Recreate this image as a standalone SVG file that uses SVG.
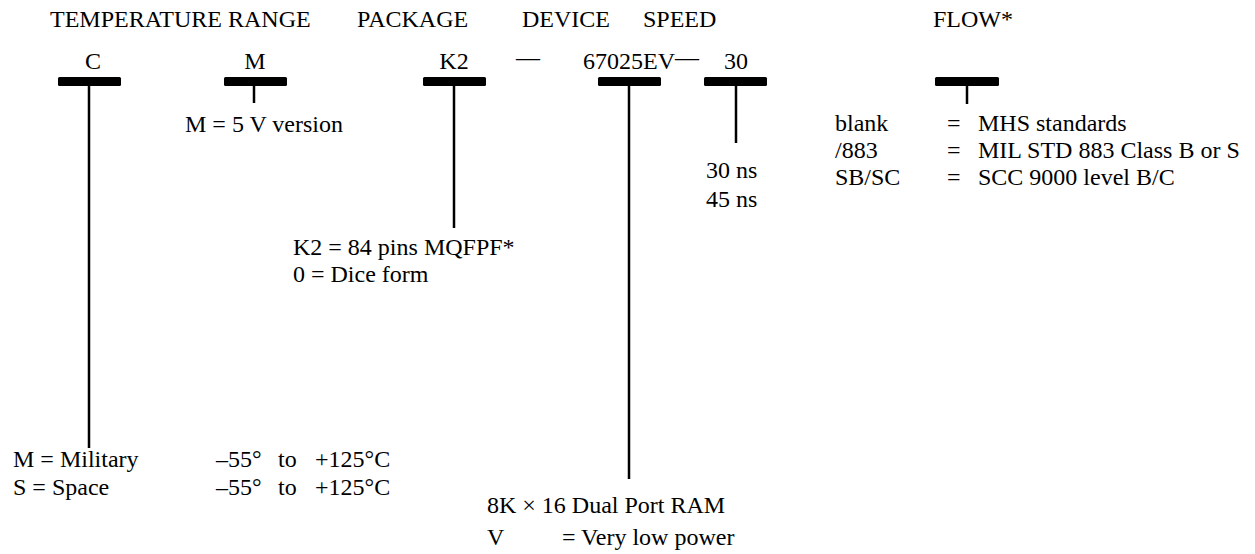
<svg xmlns="http://www.w3.org/2000/svg" width="1255" height="554" viewBox="0 0 1255 554">
<style>
text{font-family:"Liberation Serif","Times New Roman",serif;font-size:24px;fill:#000}
.bar{fill:#000}
.ln{stroke:#000;stroke-width:2.5;fill:none}
</style>
<rect width="1255" height="554" fill="#fff"/>
<g id="headings">
<text x="50" y="27">TEMPERATURE RANGE</text>
<text x="357" y="27">PACKAGE</text>
<text x="522" y="27">DEVICE</text>
<text x="643" y="27">SPEED</text>
<text x="933" y="27">FLOW*</text>
</g>
<g id="connectors">
<line class="ln" x1="89" y1="86" x2="89" y2="448"/>
<line class="ln" x1="254" y1="86" x2="254" y2="103"/>
<line class="ln" x1="454" y1="86" x2="454" y2="228"/>
<line class="ln" x1="629" y1="86" x2="629" y2="479"/>
<line class="ln" x1="736" y1="86" x2="736" y2="143"/>
<line class="ln" x1="967" y1="86" x2="967" y2="104"/>
</g>
<g id="node-temp">
<text x="93" y="69" text-anchor="middle">C</text>
<rect class="bar" x="58" y="77" width="63" height="9" rx="1.5"/>
<text x="13" y="467">M = Military</text>
<text x="13" y="495">S = Space</text>
<text x="216" y="467">–55°</text><text x="278" y="467">to</text><text x="315" y="467">+125°C</text>
<text x="216" y="495">–55°</text><text x="278" y="495">to</text><text x="315" y="495">+125°C</text>
</g>
<g id="node-version">
<text x="255" y="69" text-anchor="middle">M</text>
<rect class="bar" x="224" y="77" width="63" height="9" rx="1.5"/>
<text x="185" y="132">M = 5 V version</text>
</g>
<g id="node-package">
<text x="454" y="69" text-anchor="middle">K2</text>
<rect class="bar" x="423" y="77" width="63" height="9" rx="1.5"/>
<text x="293" y="255">K2 = 84 pins MQFPF*</text>
<text x="293" y="282">0 = Dice form</text>
</g>
<g id="node-dash">
<text x="516" y="65">—</text>
</g>
<g id="node-device">
<text x="583" y="69">67025EV<tspan dy="-4">—</tspan></text>
<rect class="bar" x="598" y="77" width="63" height="9" rx="1.5"/>
<text x="487" y="513">8K × 16 Dual Port RAM</text>
<text x="487" y="545">V</text>
<text x="562" y="545">= Very low power</text>
</g>
<g id="node-speed">
<text x="736" y="69" text-anchor="middle">30</text>
<rect class="bar" x="704" y="77" width="63" height="9" rx="1.5"/>
<text x="706" y="178">30 ns</text>
<text x="706" y="207">45 ns</text>
</g>
<g id="node-flow">
<rect class="bar" x="935" y="77" width="64" height="9" rx="1.5"/>
<text x="835" y="131">blank</text>
<text x="835" y="158">/883</text>
<text x="835" y="185">SB/SC</text>
<text x="947" y="131">=</text>
<text x="947" y="158">=</text>
<text x="947" y="185">=</text>
<text x="978" y="131">MHS standards</text>
<text x="978" y="158">MIL STD 883 Class B or S</text>
<text x="978" y="185">SCC 9000 level B/C</text>
</g>
</svg>
